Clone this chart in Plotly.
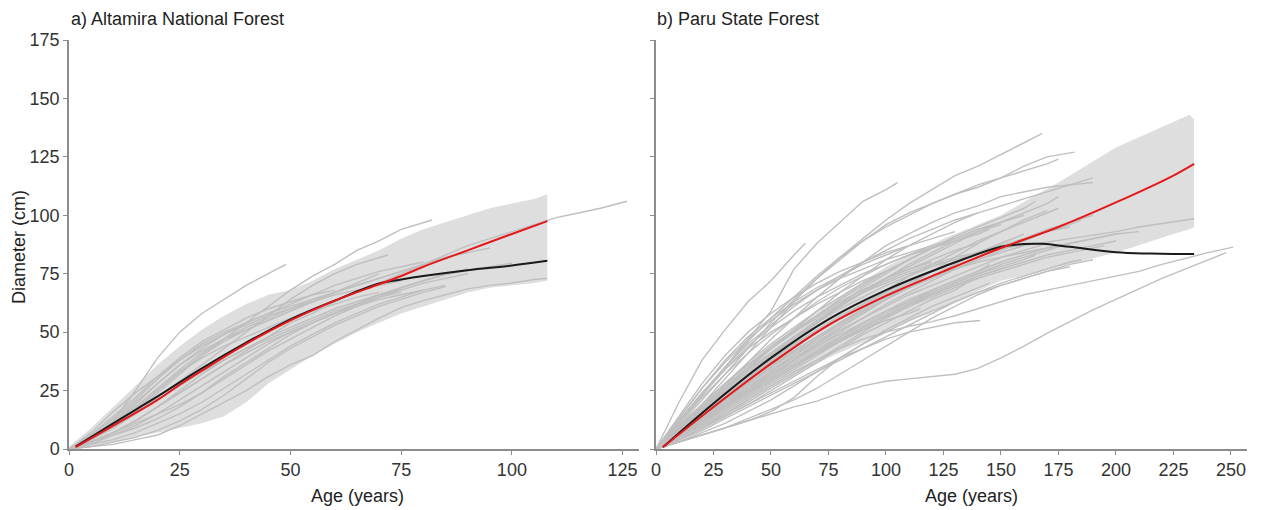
import plotly.graph_objects as go

# ---------------- a) Altamira National Forest ----------------
# individual tree ring series: diameters every 5 years from age 0,
# the final value sits at the tree's end age
alt_step = 5
alt_trees = [
    [0, 5, 12, 25, 39, 50, 58, 64, 70, 75, 79],
    [0, 3, 7, 12, 18, 24, 30, 36, 42, 48, 54, 58, 63, 67, 71, 75, 79, 83, 87, 90, 93, 96, 99, 101, 103, 106],
    [0, 1, 2, 4, 6, 10, 15, 20, 25, 31, 36, 40, 46, 51, 56, 60.5, 63.5, 66, 68.5, 70, 71, 72.5, 73],
    [0, 4, 9, 16, 24, 32, 40, 47, 54, 61, 68, 74, 79, 85, 89, 94, 97, 98],
    [0, 4, 9, 15, 22, 29, 36, 43, 50, 57, 64, 70, 75, 79, 82, 83],
    [0, 3, 7, 12, 18, 25, 32, 38, 43, 48, 52, 56, 60, 63, 66, 68],
    [0, 5, 11, 19, 28, 36, 43, 49, 54, 58, 62, 66, 70, 73, 76, 78, 80],
    [0, 4, 10, 17, 25, 33, 39, 44, 48, 52, 56, 59, 62, 65, 67],
    [0, 2, 4, 7, 11, 15, 20, 26, 32, 38, 44, 49, 54, 58, 62, 65, 68, 70],
    [0, 7, 16, 24, 31, 38, 44, 49, 53, 57, 60, 63, 66, 68, 70, 72],
    [0, 4, 10, 17, 25, 33, 40, 46, 51, 55, 59, 63, 67, 70, 73, 76, 79, 82, 84],
    [0, 3, 7, 12, 18, 24, 30, 36, 41, 46, 50, 54, 58, 61, 64, 66, 68],
    [0, 6, 13, 21, 30, 38, 45, 50, 54, 58, 61, 64, 67, 70, 73],
    [0, 3, 7, 11, 15, 19, 24, 30, 36, 42, 47, 52, 57, 61, 65, 69, 72, 75, 77],
    [0, 6, 14, 22, 31, 39, 46, 51, 56, 60, 63, 66, 68],
    [0, 2, 6, 10, 15, 21, 27, 33, 39, 45, 50, 54, 58, 62, 66, 69, 72, 74.5, 76.5, 78, 79.5],
    [0, 3, 6, 9, 13, 18, 24, 31, 37, 43, 49, 54, 58, 62, 65, 68, 71, 73, 75],
    [0, 5, 12, 20, 28, 36, 42, 47, 51, 55, 59, 63, 67, 71, 75],
    [0, 1, 3, 5, 8, 12, 17, 23, 30, 37, 43, 48, 53, 57, 61, 64, 67, 69.5],
    [0, 5, 11, 18, 26, 34, 41, 47, 52, 56, 60, 64, 67, 70, 73, 76, 79, 82, 84, 86],
    [0, 4, 9, 15, 21, 27, 33, 38, 43, 47, 51, 55, 59, 62, 65, 67],
]
alt_end_ages = [49, 126, 108, 82, 72, 75, 80, 70, 85, 75, 90, 80, 70, 90, 60, 100, 90, 70, 85, 95, 75]

alt_band_age = [0, 5, 10, 15, 20, 25, 30, 35, 40, 45, 50, 55, 60, 65, 70, 75, 80, 85, 90, 95, 100, 105, 108]
alt_band_upper = [1, 9, 18, 27, 36, 44, 51, 57, 62, 66, 68, 72, 77, 81, 85, 90, 94, 97, 100, 103, 105, 107, 109]
alt_band_lower = [0, 1, 3, 5, 7, 9, 11, 14, 20, 28, 34, 40, 45, 50, 54, 58, 61, 64, 67, 69, 70, 71, 72]

alt_model_age = [1.5, 10, 20, 25, 30, 40, 50, 60, 70, 75, 80, 90, 100, 108]
alt_model_diam = [0.8, 10, 21, 27.5, 33.5, 45, 55, 63.5, 70.5, 74, 78, 85, 92, 97.5]

alt_mean_age = [1.5, 10, 20, 30, 40, 50, 60, 70, 75, 80, 90, 100, 108]
alt_mean_diam = [1, 11, 22.5, 34.5, 45.5, 55.5, 63.5, 70.8, 72.5, 74, 76.5, 78.5, 80.5]

# ---------------- b) Paru State Forest ----------------
par_step = 10
par_trees = [
    [0, 9, 19, 30, 41, 52, 63, 73, 82, 90, 98, 105, 111, 117, 121, 126, 131, 135],
    [0, 11, 23, 35, 47, 59, 77, 88, 97, 106, 111, 114],
    [0, 20, 38, 51, 63, 72, 83, 88],
    [0, 10, 21, 32, 43, 54, 64, 73, 81, 89, 96, 101, 105, 109, 112, 116, 121, 125, 127],
    [0, 9, 18, 27, 37, 47, 56, 65, 73, 80, 87, 92, 97, 101, 104, 108, 110, 112, 113, 114],
    [0, 8, 16, 24, 32, 40, 48, 55, 61, 67, 72, 76, 79, 82, 84, 86, 87, 88.5, 90, 91.5, 93, 95, 96.5, 98, 98.5],
    [0, 3, 6, 9, 12, 15, 18, 20.5, 24, 27, 29, 30, 31, 32, 34.5, 39, 44, 49.5, 54.5, 59.5, 64, 68.5, 73, 77, 81, 84],
    [0, 4, 9, 15, 21, 27, 33, 38, 43, 47, 50, 52.5, 54.5, 57, 60, 63, 66, 68, 70, 72, 74, 76, 79, 81.5, 84, 86.4],
    [0, 3, 6, 9, 12, 16, 22, 31, 39, 45, 50, 55, 59, 63, 67, 70, 73, 76, 78],
    [0, 4, 9, 14, 19, 24, 29, 34, 39, 43, 47, 50, 52, 54, 55],
    [0, 3, 6, 9, 13, 17, 21, 26, 32, 38, 44, 50, 56, 61, 66, 70, 73, 76, 79, 81],
    [0, 9, 18, 26, 34, 41, 48, 54, 60, 65, 70, 74, 78, 81, 84, 87],
    [0, 8, 16, 24, 31, 38, 45, 51, 57, 62, 67, 72, 76, 80, 84, 87, 90, 93, 95],
    [0, 11, 22, 32, 41, 49, 56, 63, 69, 74, 79, 83, 87, 90],
    [0, 7, 14, 21, 28, 35, 41, 47, 53, 59, 64, 69, 73, 77, 81, 84, 87],
    [0, 13, 26, 37, 47, 55, 62, 68, 73, 77, 81, 84, 87],
    [0, 6, 13, 20, 27, 33, 39, 45, 51, 56, 61, 66, 70, 74, 78, 82, 85, 88],
    [0, 9, 19, 28, 36, 44, 51, 57, 63, 68, 73, 77, 81, 85, 88],
    [0, 8, 15, 22, 29, 36, 42, 48, 54, 59, 64, 69, 74, 78, 82, 86, 90, 94, 97, 100],
    [0, 14, 28, 40, 50, 58, 65, 71, 76, 80, 84, 87],
    [0, 5, 11, 17, 23, 29, 35, 41, 47, 52, 57, 62, 66, 70, 74, 77],
    [0, 9, 17, 25, 33, 41, 48, 55, 61, 67, 73, 78, 83, 88, 93, 97, 101, 105, 108],
    [0, 7, 15, 23, 30, 37, 44, 50, 56, 62, 67, 72, 76, 80],
    [0, 10, 19, 28, 37, 45, 52, 59, 65, 71, 76, 81, 86, 90, 94, 97, 100],
    [0, 6, 12, 18, 24, 30, 36, 42, 48, 54, 59, 64, 68, 72, 76, 79],
    [0, 7, 14, 20, 26, 32, 38, 44, 50, 56, 62, 67, 72, 77, 81, 85, 89, 93, 96, 98],
    [0, 8, 17, 26, 35, 43, 50, 57, 63, 68, 73, 77, 80],
    [0, 6, 12, 18, 24, 30, 36, 42, 47, 52, 57, 62, 66, 70, 74, 77, 80, 83, 85, 87, 89],
    [0, 12, 24, 35, 45, 53, 61, 68, 74, 80, 85, 90, 94, 98, 101],
    [0, 5, 10, 16, 22, 28, 34, 40, 46, 52, 57, 62, 67, 71, 75, 78, 81, 83],
    [0, 9, 18, 27, 35, 43, 50, 57, 64, 70, 76, 81, 86, 90, 94, 97, 99],
    [0, 12, 24, 34, 43, 50, 56, 62, 67, 72, 76],
    [0, 8, 15, 22, 29, 36, 43, 50, 56, 62, 68, 74, 79, 84, 89, 93, 97, 101, 103],
    [0, 4, 9, 14, 19, 25, 31, 37, 43, 49, 54, 59, 64, 68, 71],
    [0, 8, 16, 24, 32, 40, 47, 54, 61, 67, 73, 79, 84, 89, 93, 96],
    [0, 6, 11, 17, 23, 29, 35, 41, 46, 51, 56, 61, 65, 69, 73, 76, 79, 82, 84, 86, 87],
    [0, 9, 19, 28, 36, 43, 50, 56, 62, 67, 71, 75, 78, 80],
    [0, 7, 13, 19, 25, 31, 38, 45, 52, 58, 64, 69, 74, 79, 84, 88, 92],
    [0, 5, 11, 18, 25, 32, 38, 44, 49, 54, 59, 63, 67, 71, 75, 79, 82, 85, 88],
    [0, 11, 23, 34, 44, 52, 59, 65, 70, 75, 79, 83, 86, 89, 92, 94],
    [0, 7, 14, 21, 28, 34, 40, 46, 52, 58, 64, 70, 76, 82, 88, 93, 98, 102],
    [0, 6, 12, 18, 24, 30, 36, 41, 46, 51, 55, 58, 60],
    [0, 8, 16, 23, 30, 37, 44, 50, 56, 61, 66, 70, 74, 77, 80, 82, 84, 86, 88, 90, 92],
    [0, 5, 10, 15, 20, 26, 32, 38, 44, 50, 56, 61, 66, 70, 73],
    [0, 13, 26, 38, 48, 56, 63, 69, 74, 79, 83, 87, 90, 93],
    [0, 6, 12, 19, 26, 33, 40, 47, 54, 60, 66, 71, 76, 80, 84, 88, 90],
    [0, 4, 8, 13, 18, 23, 28, 33, 38, 43, 48, 53, 58, 63, 67, 71, 74, 77, 80, 81],
    [0, 8, 15, 22, 30, 38, 46, 54, 62, 69, 75, 81, 86, 91, 95, 99, 103, 106],
    [0, 7, 14, 21, 28, 35, 42, 48, 54, 60, 65, 70, 74],
    [0, 7, 13, 19, 25, 31, 37, 43, 48, 53, 58, 63, 68, 72, 76, 80, 83, 86, 88, 90, 92, 93],
    [0, 3, 7, 11, 16, 21, 27, 33, 39, 45, 51, 56, 61, 65, 69, 71],
    [0, 11, 23, 35, 46, 56, 65, 74, 82, 89, 95, 100, 105, 109, 113, 116, 119, 122, 124],
    [0, 8, 16, 25, 34, 43, 51, 59, 67, 74, 81, 87, 92, 97, 101, 104, 107, 110, 113, 116],
]
par_end_ages = [168, 105, 65, 182, 190, 234, 248, 251, 180, 141, 190,
                150, 180, 130, 160, 120, 170, 140, 190, 110, 150, 175, 130, 160, 145,
                185, 120, 200, 140, 165, 155, 100, 175, 135, 150, 195, 125, 160, 180,
                145, 170, 115, 200, 140, 130, 155, 185, 165, 120, 210, 145, 175, 190]

par_band_age = [0, 10, 25, 50, 75, 100, 125, 150, 164, 175, 200, 225, 232, 234]
par_band_upper = [1, 9, 22, 44, 62, 78, 90, 100, 108, 114, 129, 140, 143, 141]
par_band_lower = [0, 3, 10, 26, 39, 50, 61, 72, 75, 78, 84, 92, 94, 95]

par_model_age = [3, 25, 50, 75, 100, 125, 150, 175, 200, 225, 234]
par_model_diam = [0.8, 18, 36.5, 53, 65.5, 76, 86, 95, 105.5, 117, 122]

par_mean_age = [3, 25, 50, 75, 100, 125, 150, 160, 168, 180, 200, 215, 225, 234]
par_mean_diam = [0.8, 19.5, 39, 55.5, 68, 78, 86.5, 87.7, 87.8, 86.5, 84.2, 83.6, 83.4, 83.4]

# ---------------- styling ----------------
FONT = "Liberation Sans, Arial, sans-serif"
FONT_SIZE = 18
TEXT_COLOR = "#222222"
TREE_COLOR = "#bfbfbf"
BAND_COLOR = "#dedede"
MODEL_COLOR = "#e3191c"
MEAN_COLOR = "#1a1a1a"
AXIS_COLOR = "#8c8c8c"


def tree_ages(values, step, end_age):
    ages = [i * step for i in range(len(values) - 1)]
    return ages + [end_age]


fig = go.Figure()


def add_panel(xa, ya, step, trees, end_ages, b_age, b_up, b_lo,
              m_age, m_diam, k_age, k_diam):
    fig.add_trace(go.Scatter(
        x=b_age + b_age[::-1], y=b_up + b_lo[::-1],
        fill="toself", fillcolor=BAND_COLOR, mode="lines",
        line=dict(width=0), hoverinfo="skip", showlegend=False,
        xaxis=xa, yaxis=ya))
    for vals, end in zip(trees, end_ages):
        fig.add_trace(go.Scatter(
            x=tree_ages(vals, step, end), y=vals, mode="lines",
            line=dict(color=TREE_COLOR, width=1.4), showlegend=False,
            xaxis=xa, yaxis=ya))
    fig.add_trace(go.Scatter(
        x=k_age, y=k_diam, mode="lines", line=dict(color=MEAN_COLOR, width=2, shape="spline"),
        showlegend=False, xaxis=xa, yaxis=ya))
    fig.add_trace(go.Scatter(
        x=m_age, y=m_diam, mode="lines", line=dict(color=MODEL_COLOR, width=2, shape="spline"),
        showlegend=False, xaxis=xa, yaxis=ya))


add_panel("x", "y", alt_step, alt_trees, alt_end_ages, alt_band_age, alt_band_upper,
          alt_band_lower, alt_model_age, alt_model_diam, alt_mean_age, alt_mean_diam)
add_panel("x2", "y2", par_step, par_trees, par_end_ages, par_band_age, par_band_upper,
          par_band_lower, par_model_age, par_model_diam, par_mean_age, par_mean_diam)

axis_common = dict(showline=True, linecolor=AXIS_COLOR, linewidth=1.5, ticks="outside",
                   ticklen=4, tickwidth=1.2, tickcolor=AXIS_COLOR, showgrid=False,
                   zeroline=False, tickfont=dict(family=FONT, size=FONT_SIZE, color="#333333"))

L, R, T, B = 69, 14, 40, 61
W, H = 1261, 510
plot_w = W - L - R
plot_h = H - T - B


def px_x(p):
    return (p - L) / plot_w


def px_y(p):
    return (H - B - p) / plot_h


def label(text, x, y, anchor="center", angle=0):
    return dict(text=text, x=px_x(x), y=px_y(y), xref="paper", yref="paper",
                xanchor=anchor, yanchor="middle", textangle=angle, showarrow=False,
                font=dict(family=FONT, size=FONT_SIZE, color=TEXT_COLOR))


fig.update_layout(
    width=W, height=H,
    margin=dict(l=L, r=R, t=T, b=B),
    plot_bgcolor="white", paper_bgcolor="white",
    font=dict(family=FONT, size=FONT_SIZE, color=TEXT_COLOR),
    xaxis=dict(domain=[0, px_x(639)], range=[0, 128.7],
               tickvals=[0, 25, 50, 75, 100, 125], anchor="y", **axis_common),
    yaxis=dict(domain=[0, 1], range=[0, 175], tickvals=[0, 25, 50, 75, 100, 125, 150, 175],
               anchor="x", **axis_common),
    xaxis2=dict(domain=[px_x(656), 1], range=[0, 257],
                tickvals=[0, 25, 50, 75, 100, 125, 150, 175, 200, 225, 250],
                anchor="y2", **axis_common),
    yaxis2=dict(domain=[0, 1], range=[0, 175], tickvals=[0, 25, 50, 75, 100, 125, 150, 175],
                showticklabels=False, anchor="x2", **axis_common),
    annotations=[
        label("a) Altamira National Forest", 69, 19, anchor="left"),
        label("b) Paru State Forest", 655, 19, anchor="left"),
        label("Age (years)", 357, 496),
        label("Age (years)", 971, 496),
        label("Diameter (cm)", 19, 247, angle=-90),
    ],
)

fig.write_html("out.html")
